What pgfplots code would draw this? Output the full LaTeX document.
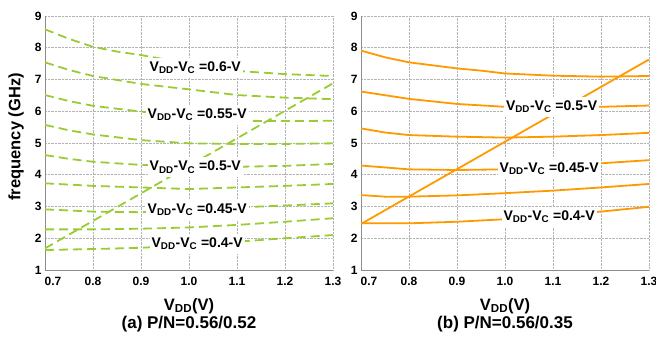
\documentclass[border=0pt]{standalone}
\usepackage{fontspec}
\setmainfont{Liberation Sans}
\usepackage{pgfplots}
\pgfplotsset{compat=1.18}
\definecolor{lg}{HTML}{99CC33}
\definecolor{og}{HTML}{FF9900}
\definecolor{gridc}{HTML}{B4B4B4}
\definecolor{axc}{HTML}{8C8C8C}
\pgfplotsset{myax/.style={
  scale only axis, width=288pt, height=254pt,
  xmin=0.7, xmax=1.3, ymin=1, ymax=9,
  xtick={0.7,0.8,0.9,1.0,1.1,1.2,1.3},
  xticklabels={\hspace*{16pt}0.7,0.8,0.9,1.0,1.1,1.2,1.3},
  ytick={1,2,3,4,5,6,7,8,9},
  grid=major, grid style={densely dotted, gridc, line width=0.6pt},
  axis x line*=bottom, axis y line*=left,
  axis line style={axc, line width=0.9pt, -},
  major tick length=0pt,
  no markers,
  tick label style={font=\fontsize{12}{14}\selectfont\bfseries},
  xticklabel style={yshift=-4pt},
  /pgf/number format/assume math mode=true,
  label style={font=\fontsize{16.5}{18}\selectfont\bfseries},
  xlabel={V\textsubscript{DD}(V)},
  xlabel style={at={(axis description cs:0.5,-0.142)}, anchor=center},
  title style={at={(axis description cs:0.5,-0.235)}, anchor=center, yshift=0pt, font=\fontsize{17}{19}\selectfont\bfseries},
}}
\tikzset{lab/.style={fill=white, inner xsep=2pt, inner ysep=4pt, font=\fontsize{14}{16}\selectfont\bfseries},
  gl/.style={lg, line width=1.8pt, dash pattern=on 9pt off 5pt},
  ol/.style={og, line width=1.8pt}}
\newcommand{\lbl}[1]{V\textsubscript{DD}-V\textsubscript{C} =#1-V}
\begin{document}
\begin{tikzpicture}
\useasboundingbox (0,0) rectangle (656pt,340pt);
\begin{axis}[myax, at={(45pt,70pt)}, anchor=south west,
  ylabel={frequency (GHz)},
  ylabel style={at={(axis description cs:-0.1,0.524)}, anchor=center},
  title={(a) P/N=0.56/0.52}]
\addplot[gl] coordinates {(0.7,8.58)(0.75,8.28)(0.8,8.03)(0.85,7.88)(0.9,7.77)(1.0,7.50)(1.1,7.27)(1.2,7.17)(1.3,7.11)};
\addplot[gl] coordinates {(0.7,7.54)(0.75,7.30)(0.8,7.11)(0.9,6.86)(1.0,6.69)(1.1,6.51)(1.2,6.43)(1.3,6.38)};
\addplot[gl] coordinates {(0.7,6.51)(0.75,6.32)(0.8,6.17)(0.9,5.99)(1.0,5.82)(1.1,5.70)(1.2,5.69)(1.3,5.70)};
\addplot[gl] coordinates {(0.7,5.57)(0.75,5.40)(0.8,5.27)(0.9,5.09)(1.0,4.99)(1.1,4.97)(1.2,4.97)(1.3,4.99)};
\addplot[gl] coordinates {(0.7,4.62)(0.75,4.50)(0.8,4.41)(0.9,4.31)(1.0,4.26)(1.1,4.25)(1.2,4.28)(1.3,4.34)};
\addplot[gl] coordinates {(0.7,3.73)(0.8,3.65)(0.9,3.60)(1.0,3.55)(1.1,3.60)(1.2,3.65)(1.3,3.71)};
\addplot[gl] coordinates {(0.7,2.91)(0.8,2.84)(0.9,2.82)(1.0,2.88)(1.1,2.97)(1.2,3.03)(1.3,3.10)};
\addplot[gl] coordinates {(0.7,2.28)(0.8,2.28)(0.9,2.30)(1.0,2.34)(1.1,2.42)(1.2,2.52)(1.3,2.63)};
\addplot[gl] coordinates {(0.7,1.63)(0.8,1.66)(0.9,1.70)(1.0,1.78)(1.1,1.89)(1.2,2.00)(1.3,2.10)};
\addplot[gl] coordinates {(0.7,1.68)(1.3,6.88)};
\coordinate (a1) at (axis cs:1.013,7.36);
\coordinate (a2) at (axis cs:1.017,5.88);
\coordinate (a3) at (axis cs:1.013,4.24);
\coordinate (a4) at (axis cs:1.017,2.89);
\coordinate (a5) at (axis cs:1.017,1.82);
\end{axis}
\node[lab] at (a1) {\lbl{0.6}};
\node[lab] at (a2) {\lbl{0.55}};
\node[lab] at (a3) {\lbl{0.5}};
\node[lab] at (a4) {\lbl{0.45}};
\node[lab] at (a5) {\lbl{0.4}};
\begin{axis}[myax, at={(361pt,70pt)}, anchor=south west,
  title={(b) P/N=0.56/0.35}]
\addplot[ol] coordinates {(0.7,7.91)(0.75,7.70)(0.8,7.54)(0.9,7.35)(0.95,7.28)(1.0,7.19)(1.1,7.12)(1.2,7.09)(1.3,7.11)};
\addplot[ol] coordinates {(0.7,6.62)(0.8,6.39)(0.9,6.23)(1.0,6.14)(1.1,6.12)(1.2,6.14)(1.3,6.18)};
\addplot[ol] coordinates {(0.7,5.46)(0.75,5.33)(0.8,5.25)(0.9,5.20)(1.0,5.17)(1.1,5.20)(1.2,5.25)(1.3,5.32)};
\addplot[ol] coordinates {(0.7,4.29)(0.8,4.17)(0.9,4.15)(1.0,4.17)(1.1,4.25)(1.2,4.36)(1.3,4.46)};
\addplot[ol] coordinates {(0.7,3.36)(0.75,3.31)(0.8,3.31)(0.9,3.35)(1.0,3.42)(1.1,3.50)(1.2,3.60)(1.3,3.71)};
\addplot[ol] coordinates {(0.7,2.47)(0.8,2.47)(0.9,2.52)(1.0,2.60)(1.1,2.72)(1.2,2.84)(1.3,2.99)};
\addplot[ol] coordinates {(0.7,2.45)(1.3,7.63)};
\coordinate (b1) at (axis cs:1.097,6.14);
\coordinate (b2) at (axis cs:1.092,4.20);
\coordinate (b3) at (axis cs:1.092,2.68);
\end{axis}
\node[lab] at (b1) {\lbl{0.5}};
\node[lab] at (b2) {\lbl{0.45}};
\node[lab] at (b3) {\lbl{0.4}};
\end{tikzpicture}
\end{document}
